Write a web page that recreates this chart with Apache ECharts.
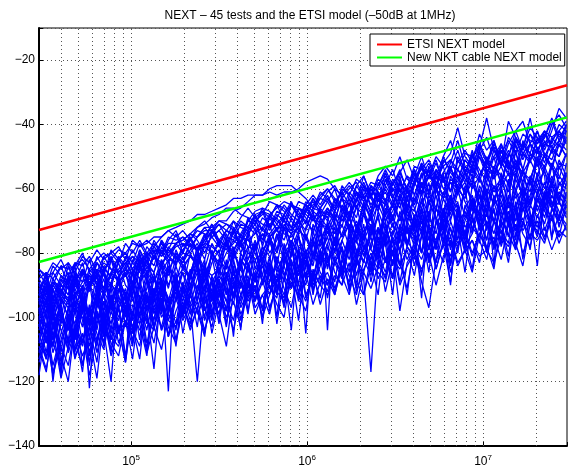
<!DOCTYPE html>
<html>
<head>
<meta charset="utf-8">
<title>NEXT - 45 tests and the ETSI model</title>
<script src="https://cdn.jsdelivr.net/npm/echarts@6/dist/echarts.min.js"></script>
<style>
  html, body { margin: 0; padding: 0; background: #fff; }
  #chart { width: 570px; height: 468px; }
</style>
</head>
<body>
<div id="chart"></div>
<script>
'use strict';

// sweep frequencies, kHz
var freqKHz = [30,33,36,40,44,48,53,58,64,70,
  77,85,93,102,112,123,135,149,163,180,
  197,217,238,262,288,316,348,382,420,462,
  507,558,613,674,741,814,895,984,1082,1189,
  1307,1437,1580,1737,1909,2099,2307,2536,2788,3065,
  3369,3704,4072,4476,4920,5409,5946,6536,7185,7899,
  8683,9545,10490,11530,12680,13940,15320,16840,18510,20350,
  22370,24590,27030,29720];

var test01 = [-88,-86,-88,-84,-85,-84,-82,-85,-82,-80,-82,-79,-80,-77,-78,-77,-75,-75,-73,-72,-71,-70,-68,-68,-67,-66,-65,-63,-63,-62,-62,-62,-61,-62,-61,-61,-60,-58,-57,-56,-57,-60,-62,-59,-62,-63,-60,-64,-60,-65,-58,-61,-65,-58,-61,-56,-63,-57,-59,-53,-56,-63,-53,-55,-51,-56,-51,-58,-51,-48,-54,-48,-50,-45];
var test02 = [-91,-92,-89,-90,-91,-88,-86,-89,-87,-83,-85,-86,-83,-81,-83,-81,-79,-80,-77,-77,-76,-74,-75,-72,-72,-70,-70,-67,-66,-64,-62,-62,-60,-59,-59,-59,-61,-63,-66,-67,-68,-65,-61,-58,-61,-64,-59,-61,-64,-58,-55,-60,-64,-56,-54,-59,-55,-51,-56,-61,-52,-50,-56,-48,-52,-55,-45,-49,-51,-45,-42,-48,-45,-42];
var test03 = [-95,-89,-97,-90,-86,-93,-89,-87,-92,-84,-88,-85,-82,-87,-82,-84,-78,-81,-79,-82,-79,-76,-79,-76,-73,-77,-73,-74,-70,-72,-74,-69,-71,-69,-65,-68,-70,-64,-66,-61,-63,-66,-60,-62,-57,-59,-62,-56,-53,-56,-50,-57,-59,-53,-56,-59,-52,-49,-41,-50,-53,-47,-38,-48,-53,-46,-42,-48,-43,-48,-44,-38,-44,-41];
var test04 = [-93,-96,-90,-93,-96,-89,-92,-90,-85,-92,-87,-88,-84,-89,-85,-83,-86,-79,-82,-83,-80,-81,-83,-77,-78,-80,-74,-79,-75,-76,-79,-72,-75,-73,-68,-72,-70,-73,-67,-69,-66,-70,-63,-65,-69,-60,-65,-61,-64,-57,-60,-64,-54,-59,-56,-59,-50,-55,-58,-51,-54,-46,-51,-54,-47,-50,-42,-39,-46,-42,-48,-42,-35,-38];
var test05 = [-101,-92,-104,-95,-88,-105,-91,-122,-93,-86,-97,-89,-103,-86,-91,-80,-94,-86,-82,-95,-84,-88,-78,-91,-83,-79,-93,-80,-85,-73,-80,-87,-75,-80,-72,-81,-75,-85,-71,-77,-71,-80,-66,-73,-84,-67,-74,-69,-77,-63,-70,-65,-72,-66,-79,-60,-68,-62,-73,-59,-63,-68,-55,-63,-59,-70,-55,-63,-57,-51,-64,-57,-53,-58];
var test06 = [-107,-97,-120,-100,-107,-93,-101,-109,-95,-102,-91,-104,-96,-108,-90,-98,-116,-90,-98,-92,-100,-87,-92,-100,-87,-94,-82,-94,-88,-99,-82,-89,-83,-93,-78,-88,-84,-79,-92,-80,-84,-75,-86,-78,-91,-74,-79,-82,-71,-84,-75,-72,-84,-75,-67,-78,-70,-84,-66,-74,-70,-75,-63,-70,-77,-64,-70,-65,-76,-60,-67,-70,-61,-63];
var test07 = [-95,-88,-98,-90,-93,-84,-97,-87,-89,-92,-82,-86,-95,-82,-86,-88,-79,-89,-123,-80,-82,-77,-84,-74,-81,-77,-85,-72,-78,-75,-68,-78,-71,-79,-68,-72,-74,-67,-69,-74,-66,-70,-62,-72,-66,-62,-68,-58,-64,-70,-58,-61,-65,-58,-69,-54,-60,-58,-62,-54,-67,-56,-51,-57,-53,-59,-46,-54,-59,-48,-50,-53,-46,-50];
var test08 = [-111,-102,-115,-105,-97,-110,-105,-114,-99,-106,-95,-108,-101,-113,-96,-101,-104,-91,-106,-94,-101,-96,-120,-93,-100,-88,-95,-101,-89,-95,-91,-100,-84,-92,-95,-86,-101,-82,-91,-87,-92,-82,-87,-93,-82,-88,-117,-82,-88,-76,-83,-91,-78,-82,-75,-85,-77,-89,-71,-80,-76,-83,-71,-78,-73,-83,-67,-74,-78,-68,-75,-69,-77,-71];
var test09 = [-97,-103,-91,-99,-104,-92,-95,-99,-86,-104,-120,-91,-95,-86,-97,-91,-86,-98,-82,-91,-86,-92,-81,-87,-93,-82,-76,-87,-83,-78,-88,-80,-74,-83,-89,-76,-80,-105,-73,-81,-75,-70,-82,-75,-70,-76,-71,-82,-66,-71,-75,-67,-71,-61,-76,-66,-70,-62,-76,-66,-62,-69,-58,-65,-62,-70,-57,-62,-66,-57,-63,-53,-58,-60];
var test10 = [-90,-93,-86,-90,-93,-86,-89,-82,-90,-85,-82,-90,-85,-81,-85,-78,-81,-84,-79,-74,-80,-75,-80,-76,-71,-78,-73,-74,-78,-70,-71,-66,-72,-69,-73,-65,-69,-65,-70,-66,-104,-67,-63,-69,-64,-59,-66,-61,-68,-58,-62,-60,-54,-62,-56,-58,-62,-53,-54,-58,-50,-54,-58,-50,-46,-53,-49,-54,-46,-49,-43,-47,-50,-44];
var test11 = [-113,-104,-117,-107,-99,-112,-107,-103,-114,-98,-106,-109,-101,-105,-94,-108,-100,-95,-103,-108,-97,-102,-90,-97,-103,-92,-97,-104,-93,-87,-97,-93,-99,-88,-93,-84,-95,-88,-86,-96,-88,-93,-84,-89,-80,-93,-84,-86,-89,-79,-98,-83,-79,-89,-97,-82,-78,-75,-83,-79,-86,-74,-79,-75,-82,-71,-77,-84,-71,-73,-77,-68,-75,-72];
var test12 = [-98,-90,-101,-92,-94,-87,-96,-91,-87,-98,-90,-92,-86,-93,-80,-88,-93,-83,-87,-79,-84,-87,-78,-89,-80,-83,-75,-82,-77,-84,-78,-74,-80,-76,-69,-79,-73,-75,-81,-69,-72,-76,-68,-63,-72,-68,-75,-63,-68,-65,-70,-62,-73,-64,-61,-66,-56,-67,-60,-63,-56,-66,-60,-84,-56,-61,-51,-56,-61,-51,-56,-76,-52,-53];
var test13 = [-102,-108,-96,-104,-110,-97,-100,-106,-91,-101,-95,-105,-98,-90,-99,-94,-101,-88,-95,-109,-90,-94,-83,-96,-89,-85,-93,-88,-104,-83,-89,-84,-91,-94,-78,-84,-80,-87,-81,-74,-82,-77,-85,-78,-73,-81,-75,-84,-76,-71,-79,-73,-76,-66,-79,-71,-67,-79,-71,-67,-74,-62,-71,-67,-76,-62,-67,-63,-70,-64,-58,-66,-61,-64];
var test14 = [-92,-95,-89,-92,-95,-88,-91,-85,-88,-91,-86,-81,-87,-83,-86,-80,-82,-76,-79,-81,-83,-79,-75,-73,-73,-76,-78,-79,-76,-72,-68,-67,-68,-71,-74,-75,-72,-67,-65,-63,-64,-68,-70,-65,-61,-63,-67,-60,-56,-62,-66,-59,-55,-61,-56,-51,-58,-53,-60,-55,-49,-56,-52,-45,-53,-48,-54,-46,-49,-42,-50,-45,-42,-45];
var test15 = [-100,-94,-103,-96,-90,-99,-93,-102,-94,-88,-97,-89,-94,-99,-89,-86,-92,-88,-85,-88,-85,-81,-82,-85,-87,-85,-80,-76,-78,-80,-82,-80,-75,-72,-72,-74,-78,-80,-76,-71,-67,-71,-75,-71,-77,-67,-72,-78,-67,-72,-63,-68,-73,-63,-68,-74,-63,-68,-59,-64,-69,-59,-64,-71,-60,-55,-63,-60,-65,-55,-60,-52,-65,-55];
var test16 = [-118,-102,-109,-97,-111,-104,-117,-98,-107,-99,-111,-93,-102,-105,-95,-110,-91,-100,-96,-104,-91,-99,-94,-86,-100,-91,-103,-85,-93,-89,-95,-82,-98,-89,-84,-91,-78,-93,-88,-79,-90,-83,-78,-92,-83,-74,-89,-78,-83,-75,-89,-78,-82,-68,-83,-77,-71,-83,-67,-76,-85,-70,-76,-66,-78,-70,-78,-66,-71,-61,-73,-67,-64,-69];
var test17 = [-85,-87,-83,-85,-83,-86,-81,-83,-79,-82,-80,-78,-82,-76,-78,-76,-78,-75,-73,-75,-73,-76,-72,-70,-73,-70,-71,-73,-69,-66,-69,-67,-69,-65,-66,-69,-64,-65,-62,-65,-61,-59,-63,-60,-58,-62,-58,-59,-54,-59,-55,-60,-53,-54,-56,-50,-53,-51,-54,-49,-50,-46,-51,-47,-49,-45,-49,-43,-45,-46,-42,-44,-42,-39];
var test18 = [-94,-100,-107,-94,-100,-89,-95,-101,-92,-105,-89,-95,-99,-85,-91,-100,-88,-93,-84,-89,-95,-86,-80,-89,-95,-82,-85,-78,-88,-82,-77,-90,-82,-74,-83,-77,-90,-74,-80,-82,-73,-79,-74,-68,-80,-73,-69,-81,-73,-69,-64,-77,-70,-73,-64,-69,-76,-65,-60,-69,-64,-71,-60,-65,-55,-66,-61,-72,-57,-62,-53,-59,-63,-56];
var test19 = [-105,-113,-98,-117,-100,-107,-93,-112,-102,-95,-107,-97,-113,-90,-102,-97,-92,-104,-98,-88,-100,-92,-103,-85,-93,-99,-87,-93,-81,-98,-87,-83,-91,-87,-97,-79,-87,-81,-90,-84,-77,-86,-90,-72,-82,-86,-77,-72,-82,-88,-73,-77,-68,-80,-73,-83,-67,-75,-69,-79,-63,-71,-80,-64,-72,-67,-73,-61,-68,-74,-61,-64,-69,-61];
var test20 = [-89,-94,-90,-84,-90,-94,-86,-90,-83,-86,-90,-82,-80,-85,-81,-86,-81,-77,-81,-77,-75,-77,-79,-77,-73,-71,-73,-75,-77,-73,-70,-68,-64,-65,-67,-70,-73,-70,-66,-62,-60,-63,-66,-68,-63,-58,-63,-67,-59,-63,-56,-66,-58,-52,-61,-54,-57,-64,-51,-55,-58,-48,-55,-50,-59,-50,-44,-51,-46,-53,-46,-47,-50,-42];
var test21 = [-89,-100,-91,-101,-87,-96,-103,-89,-97,-85,-98,-88,-93,-101,-83,-89,-95,-83,-90,-84,-91,-80,-85,-92,-80,-87,-76,-83,-91,-79,-72,-82,-76,-84,-72,-77,-85,-72,-67,-78,-72,-80,-68,-73,-65,-75,-68,-80,-63,-69,-73,-60,-66,-74,-62,-67,-55,-70,-61,-58,-65,-70,-54,-60,-57,-64,-48,-59,-64,-50,-55,-59,-51,-56];
var test22 = [-110,-117,-101,-112,-120,-102,-108,-96,-111,-102,-107,-96,-112,-99,-102,-112,-94,-104,-98,-90,-105,-93,-98,-106,-88,-95,-98,-84,-101,-89,-92,-97,-84,-102,-87,-91,-80,-94,-87,-81,-94,-82,-86,-76,-89,-93,-81,-85,-75,-88,-79,-93,-75,-80,-71,-85,-76,-81,-72,-86,-69,-76,-82,-70,-73,-77,-64,-82,-68,-72,-64,-75,-68,-71];
var test23 = [-86,-90,-84,-87,-89,-84,-80,-86,-83,-87,-79,-82,-80,-83,-77,-81,-78,-81,-76,-73,-78,-75,-79,-75,-71,-76,-73,-70,-75,-70,-71,-67,-73,-68,-70,-65,-67,-71,-63,-66,-63,-67,-59,-62,-66,-59,-63,-57,-59,-54,-61,-56,-58,-52,-55,-60,-51,-54,-48,-55,-50,-47,-52,-47,-53,-44,-47,-50,-43,-46,-43,-46,-40,-42];
var test24 = [-97,-107,-93,-111,-97,-102,-92,-115,-97,-92,-104,-88,-100,-93,-107,-88,-94,-88,-101,-94,-86,-96,-88,-82,-99,-85,-89,-106,-82,-85,-89,-78,-81,-91,-83,-76,-93,-79,-84,-72,-85,-75,-79,-91,-71,-79,-74,-68,-83,-74,-68,-78,-71,-94,-68,-62,-73,-69,-64,-78,-68,-60,-73,-63,-68,-57,-75,-62,-57,-67,-61,-56,-64,-52];
var test25 = [-93,-86,-95,-88,-91,-96,-85,-91,-86,-91,-82,-87,-85,-90,-81,-84,-86,-78,-81,-83,-79,-76,-73,-74,-75,-78,-79,-77,-74,-70,-67,-66,-67,-70,-72,-73,-70,-66,-64,-67,-70,-64,-66,-70,-61,-66,-62,-67,-57,-63,-58,-67,-59,-53,-62,-56,-58,-53,-61,-56,-48,-56,-51,-57,-48,-52,-57,-45,-51,-47,-52,-44,-47,-40];
var test26 = [-104,-95,-109,-99,-104,-95,-108,-99,-90,-102,-94,-104,-98,-89,-100,-93,-104,-88,-95,-91,-98,-88,-82,-93,-89,-97,-83,-88,-85,-91,-78,-87,-93,-81,-87,-81,-74,-88,-82,-76,-82,-89,-76,-82,-71,-77,-84,-72,-78,-73,-80,-66,-74,-69,-82,-70,-74,-65,-71,-76,-64,-70,-66,-78,-60,-70,-65,-61,-71,-62,-66,-57,-70,-62];
var test27 = [-109,-116,-104,-119,-109,-104,-112,-106,-119,-100,-108,-112,-101,-104,-109,-96,-103,-110,-99,-103,-95,-103,-97,-105,-93,-99,-109,-92,-96,-88,-99,-93,-90,-96,-100,-85,-92,-86,-96,-89,-86,-92,-82,-87,-93,-82,-87,-78,-92,-82,-85,-78,-81,-86,-78,-83,-73,-86,-78,-74,-81,-74,-78,-85,-70,-74,-79,-70,-75,-70,-76,-66,-71,-67];
var test28 = [-99,-91,-101,-93,-87,-97,-90,-100,-92,-85,-95,-89,-86,-95,-89,-82,-89,-84,-91,-81,-85,-88,-80,-85,-77,-81,-87,-81,-76,-82,-76,-83,-77,-72,-79,-74,-69,-75,-81,-70,-74,-68,-75,-69,-76,-64,-70,-65,-70,-67,-62,-71,-63,-66,-58,-70,-61,-66,-56,-62,-58,-65,-56,-61,-58,-51,-61,-55,-51,-56,-49,-53,-57,-49];
var test29 = [-102,-111,-97,-114,-102,-97,-115,-103,-98,-108,-93,-103,-114,-96,-99,-92,-103,-95,-106,-90,-99,-92,-86,-101,-94,-88,-102,-89,-95,-83,-95,-89,-84,-100,-81,-88,-94,-84,-76,-89,-80,-93,-83,-74,-87,-78,-83,-93,-73,-78,-84,-71,-78,-73,-86,-70,-77,-72,-80,-65,-72,-75,-67,-79,-69,-63,-73,-69,-79,-63,-69,-60,-72,-64];
var test30 = [-92,-86,-94,-87,-90,-83,-87,-92,-83,-86,-81,-86,-83,-87,-79,-83,-76,-80,-83,-77,-80,-74,-76,-80,-74,-71,-75,-76,-71,-72,-68,-73,-69,-65,-70,-72,-66,-67,-63,-68,-64,-60,-67,-61,-64,-56,-62,-66,-57,-59,-54,-61,-56,-50,-57,-52,-58,-52,-45,-53,-55,-48,-44,-51,-48,-54,-44,-48,-38,-48,-44,-39,-45,-40];
var test31 = [-103,-94,-107,-96,-108,-98,-90,-102,-94,-103,-90,-97,-93,-104,-88,-98,-92,-84,-99,-87,-93,-85,-95,-87,-81,-92,-87,-94,-80,-84,-89,-80,-75,-86,-80,-88,-75,-81,-89,-76,-71,-82,-76,-71,-82,-75,-67,-77,-70,-81,-67,-74,-69,-80,-64,-69,-73,-64,-68,-60,-73,-62,-68,-59,-64,-72,-60,-54,-65,-59,-54,-65,-59,-55];
var test32 = [-96,-90,-99,-91,-95,-86,-98,-90,-87,-93,-89,-83,-90,-93,-84,-87,-81,-83,-81,-78,-77,-78,-79,-78,-75,-73,-71,-72,-75,-76,-74,-72,-68,-66,-64,-65,-68,-70,-73,-68,-69,-74,-65,-69,-75,-64,-69,-61,-70,-65,-60,-70,-62,-55,-65,-59,-68,-56,-60,-63,-53,-57,-62,-53,-58,-49,-53,-60,-49,-53,-50,-54,-46,-50];
var test33 = [-107,-113,-102,-109,-115,-103,-109,-97,-105,-110,-98,-105,-101,-109,-93,-102,-97,-103,-94,-107,-97,-90,-99,-94,-101,-90,-95,-85,-97,-92,-87,-98,-89,-84,-91,-97,-85,-90,-80,-86,-90,-83,-79,-91,-84,-79,-86,-75,-82,-87,-75,-82,-77,-70,-83,-76,-70,-84,-72,-78,-74,-66,-79,-70,-74,-67,-79,-64,-70,-65,-71,-62,-67,-73];
var test34 = [-85,-88,-86,-82,-87,-83,-84,-81,-86,-81,-80,-83,-77,-80,-76,-80,-77,-80,-75,-76,-75,-78,-75,-72,-75,-73,-76,-70,-72,-73,-69,-71,-72,-67,-68,-64,-69,-65,-67,-63,-60,-64,-61,-65,-59,-56,-62,-59,-55,-61,-55,-51,-57,-54,-51,-56,-50,-45,-52,-48,-52,-43,-48,-45,-52,-39,-44,-47,-41,-44,-47,-40,-37,-41];
var test35 = [-100,-105,-96,-118,-100,-106,-95,-101,-108,-95,-102,-91,-97,-103,-113,-93,-97,-89,-94,-102,-89,-97,-92,-84,-89,-102,-87,-91,-83,-94,-86,-80,-89,-82,-86,-104,-79,-83,-88,-79,-75,-83,-78,-86,-72,-78,-82,-73,-77,-93,-72,-78,-69,-72,-79,-66,-72,-90,-68,-74,-65,-68,-76,-62,-69,-65,-70,-58,-67,-84,-61,-66,-58,-62];
var test36 = [-91,-95,-88,-92,-95,-89,-83,-91,-85,-87,-91,-82,-85,-87,-79,-85,-81,-85,-78,-81,-83,-77,-79,-74,-81,-76,-78,-72,-80,-74,-71,-76,-68,-73,-76,-69,-72,-66,-69,-72,-66,-69,-72,-62,-66,-68,-60,-63,-65,-60,-63,-66,-57,-59,-54,-61,-56,-61,-54,-57,-59,-50,-54,-56,-50,-53,-56,-49,-52,-44,-49,-51,-45,-48];
var test37 = [-108,-99,-111,-102,-94,-107,-98,-111,-101,-93,-105,-96,-91,-101,-96,-104,-91,-97,-85,-95,-90,-99,-92,-86,-95,-89,-98,-82,-91,-85,-92,-82,-87,-93,-77,-83,-87,-79,-93,-80,-83,-76,-87,-79,-76,-83,-71,-80,-74,-84,-71,-76,-80,-67,-73,-76,-68,-78,-65,-72,-68,-77,-62,-70,-64,-71,-66,-60,-72,-63,-67,-59,-64,-68];
var test38 = [-95,-103,-91,-99,-104,-93,-99,-89,-104,-92,-96,-87,-99,-91,-82,-96,-87,-99,-84,-89,-81,-90,-84,-94,-79,-85,-89,-79,-85,-74,-85,-78,-87,-74,-80,-77,-70,-80,-75,-84,-70,-77,-71,-78,-73,-65,-79,-67,-73,-68,-77,-63,-69,-64,-71,-58,-71,-63,-66,-75,-59,-62,-67,-54,-71,-59,-54,-63,-56,-59,-64,-52,-56,-59];
var test39 = [-105,-112,-108,-115,-99,-108,-115,-103,-109,-98,-110,-103,-114,-98,-104,-100,-108,-94,-101,-103,-96,-104,-97,-90,-105,-95,-98,-90,-99,-94,-90,-100,-93,-86,-96,-89,-93,-98,-85,-90,-93,-87,-90,-83,-96,-86,-91,-84,-87,-79,-90,-84,-80,-85,-80,-90,-81,-76,-84,-79,-76,-81,-79,-83,-75,-78,-71,-80,-74,-76,-72,-79,-73,-75];
var test40 = [-88,-92,-89,-93,-84,-89,-85,-90,-81,-85,-87,-81,-84,-79,-83,-80,-80,-77,-80,-77,-76,-74,-72,-71,-69,-68,-66,-66,-68,-69,-70,-73,-74,-71,-68,-65,-66,-68,-70,-66,-62,-67,-63,-68,-59,-63,-60,-64,-55,-60,-61,-56,-62,-56,-52,-57,-53,-61,-50,-54,-56,-49,-53,-46,-50,-54,-45,-49,-46,-49,-42,-47,-43,-44];
var test41 = [-98,-104,-109,-94,-100,-111,-96,-103,-92,-106,-96,-101,-92,-108,-95,-86,-99,-90,-95,-86,-99,-87,-91,-83,-94,-87,-91,-96,-82,-86,-77,-89,-81,-91,-84,-76,-81,-87,-77,-83,-77,-72,-86,-77,-81,-71,-86,-74,-68,-76,-79,-70,-75,-66,-71,-79,-67,-62,-73,-69,-63,-73,-65,-59,-67,-75,-60,-67,-62,-56,-66,-58,-62,-66];
var test42 = [-94,-97,-90,-94,-97,-90,-93,-86,-90,-93,-86,-89,-87,-90,-82,-86,-89,-82,-86,-80,-84,-81,-84,-78,-80,-84,-77,-80,-74,-78,-79,-74,-75,-80,-71,-74,-72,-76,-68,-71,-72,-67,-70,-67,-72,-65,-69,-62,-65,-70,-62,-65,-67,-59,-64,-60,-63,-58,-60,-55,-60,-56,-62,-53,-56,-58,-52,-55,-57,-51,-53,-48,-54,-49];
var test43 = [-114,-106,-118,-108,-101,-113,-105,-118,-107,-100,-112,-104,-98,-107,-99,-111,-103,-96,-106,-98,-93,-101,-95,-104,-96,-91,-100,-95,-103,-90,-94,-88,-97,-90,-94,-82,-90,-95,-86,-90,-82,-91,-85,-78,-92,-85,-80,-88,-82,-76,-84,-79,-87,-74,-81,-77,-83,-70,-77,-73,-80,-74,-70,-77,-71,-81,-66,-73,-69,-75,-65,-69,-75,-65];
var test44 = [-93,-87,-96,-89,-83,-92,-85,-88,-91,-81,-85,-88,-81,-85,-88,-81,-84,-76,-81,-84,-77,-80,-77,-82,-73,-77,-79,-73,-77,-69,-73,-77,-69,-73,-70,-73,-66,-69,-74,-66,-69,-63,-66,-70,-63,-67,-59,-64,-61,-66,-57,-63,-58,-62,-53,-58,-62,-54,-57,-51,-54,-58,-50,-54,-46,-52,-54,-46,-49,-51,-45,-49,-42,-46];
var test45 = [-101,-108,-103,-96,-109,-103,-96,-106,-98,-109,-93,-100,-95,-103,-96,-88,-103,-93,-97,-89,-98,-90,-85,-98,-91,-101,-86,-90,-83,-93,-86,-102,-83,-89,-80,-91,-85,-81,-87,-94,-78,-83,-88,-75,-79,-83,-72,-80,-86,-75,-79,-72,-75,-87,-71,-78,-66,-73,-78,-70,-65,-72,-68,-74,-65,-69,-76,-62,-65,-69,-62,-66,-70,-58];

var tests = [test01, test02, test03, test04, test05, test06, test07, test08, test09,
  test10, test11, test12, test13, test14, test15, test16, test17, test18, test19,
  test20, test21, test22, test23, test24, test25, test26, test27, test28, test29,
  test30, test31, test32, test33, test34, test35, test36, test37, test38, test39,
  test40, test41, test42, test43, test44, test45];

// models: straight lines on the log axis, end points only
var modelFreqKHz = [30, 30000];
var etsiNext = [-72.8, -27.8];
var nktNext = [-82.8, -37.8];

// vertical grid positions, kHz
var gridKHz = [40, 50, 60, 70, 80, 90, 100, 200, 300, 400, 500, 600, 700, 800, 900,
  1000, 2000, 3000, 4000, 5000, 6000, 7000, 8000, 9000, 10000, 20000];

var myChart = echarts.init(document.getElementById('chart'), null, { renderer: 'canvas' });

function pairs(fk, vals) {
  return vals.map(function (v, i) { return [fk[i] * 1000, v]; });
}

var series = [];

// dotted grid lines behind everything
series.push({
  type: 'line',
  data: [],
  silent: true,
  z: 1,
  markLine: {
    silent: true,
    z: 1,
    symbol: 'none',
    label: { show: false },
    animation: false,
    lineStyle: { color: '#555', width: 1, type: [1, 3] },
    data: gridKHz.map(function (k) { return { xAxis: k * 1000 }; })
  }
});

tests.forEach(function (t, i) {
  series.push({
    name: 'Test ' + (i + 1),
    type: 'line',
    data: pairs(freqKHz, t),
    symbol: 'none',
    silent: true,
    z: 2,
    lineStyle: { color: '#0000ff', width: 1.3 }
  });
});

series.push({
  name: 'ETSI NEXT model',
  type: 'line',
  data: pairs(modelFreqKHz, etsiNext),
  symbol: 'none',
  z: 3,
  itemStyle: { color: '#ff0000' },
  lineStyle: { color: '#ff0000', width: 2.5 }
});
series.push({
  name: 'New NKT cable NEXT model',
  type: 'line',
  data: pairs(modelFreqKHz, nktNext),
  symbol: 'none',
  z: 3,
  itemStyle: { color: '#00ff00' },
  lineStyle: { color: '#00ff00', width: 2.5 }
});

var option = {
  animation: false,
  backgroundColor: '#fff',
  textStyle: { fontFamily: 'Liberation Sans, Arial, sans-serif' },
  title: {
    text: 'NEXT \u2013 45 tests and the ETSI model (\u201350dB at 1MHz)',
    left: 305,
    top: 5,
    textAlign: 'center',
    textStyle: { fontSize: 12, fontWeight: 'normal', color: '#000' }
  },
  legend: {
    data: ['ETSI NEXT model', 'New NKT cable NEXT model'],
    orient: 'vertical',
    left: 370,
    top: 34,
    z: 20,
    icon: 'rect',
    itemWidth: 25,
    itemHeight: 2,
    itemGap: 0,
    padding: [4, 3, 2, 7],
    backgroundColor: '#fff',
    borderColor: '#000',
    borderWidth: 1,
    borderRadius: 0,
    textStyle: { fontSize: 12, color: '#000', lineHeight: 13 }
  },
  grid: {
    left: 39,
    right: -3,
    top: 28,
    bottom: 20,
    show: true,
    borderColor: '#000',
    borderWidth: 1,
    backgroundColor: '#fff'
  },
  xAxis: {
    type: 'log',
    logBase: 10,
    min: 30000,
    max: 30000000,
    axisLine: { lineStyle: { color: '#000', width: 2 } },
    axisTick: { inside: true, length: 4, lineStyle: { color: '#000' } },
    splitLine: { show: false },
    axisLabel: {
      color: '#000',
      margin: 8,
      formatter: function (v) {
        var e = Math.log10(v);
        if (Math.abs(e - Math.round(e)) > 1e-6) return '';
        return '{b|10}{s|' + Math.round(e) + '}';
      },
      rich: {
        b: { fontSize: 12, color: '#000' },
        s: { fontSize: 8, color: '#000', padding: [0, 0, 8, 0] }
      }
    }
  },
  yAxis: {
    type: 'value',
    min: -140,
    max: -10,
    interval: 20,
    axisLine: { show: true, lineStyle: { color: '#000', width: 2 } },
    axisTick: { show: true, inside: true, length: 4, lineStyle: { color: '#000' } },
    splitLine: { show: true, lineStyle: { color: '#555', width: 1, type: [1, 3] } },
    axisLabel: {
      color: '#000',
      fontSize: 12,
      margin: 4,
      formatter: function (v) {
        return v % 20 === 0 ? String(v).replace('-', '\u2212') : '';
      }
    }
  },
  series: series
};

myChart.setOption(option);
</script>
</body>
</html>
